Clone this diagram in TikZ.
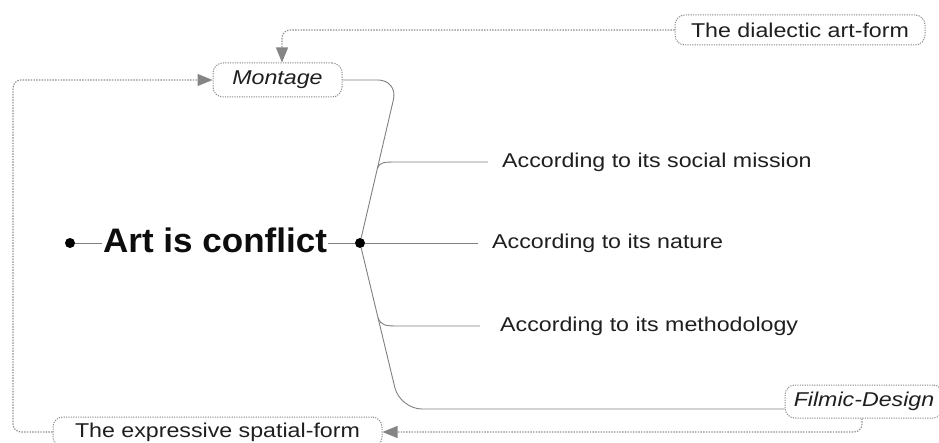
\documentclass[tikz,border=0pt]{standalone}
\usepackage{fontspec}
\setmainfont{Liberation Sans}
\usetikzlibrary{arrows.meta,calc}
\newcommand\sx[1]{\scalebox{1.16}[1]{#1}}
\begin{document}
\begin{tikzpicture}[x=1pt,y=-1pt,
  solidln/.style={draw=black!50, line width=0.9pt},
  dotln/.style={draw=black!45, line width=1.1pt, dash pattern=on 1.4pt off 1.3pt, rounded corners=8pt},
  arr/.style={-{Triangle[length=15pt,width=12pt,color=black!48]}},
  txt/.style={font=\fontsize{20}{24}\selectfont, text=black!88, inner sep=2pt},
  bubble/.style={draw=black!45, line width=1pt, dash pattern=on 1.2pt off 1.2pt, rounded corners=10pt, inner sep=0pt},
  hubdot/.style={circle, fill=black, inner sep=0pt, minimum size=10pt}
]
\useasboundingbox (0,0) rectangle (939,443);
\fill[white] (0,0) rectangle (939,443);

% hub
\node[hubdot] (ld) at (70,243) {};
\node[hubdot] (rd) at (360,243) {};
\node[font=\fontsize{34}{40}\selectfont\bfseries, text=black!95, inner sep=1pt, anchor=base west] (art) at (102,253) {\scalebox{1.03}[1]{Art is conflict}};

% branch texts
\node[txt, anchor=west] (soc) at (500,162) {\sx{According to its social mission}};
\node[txt, anchor=west] (nat) at (490,243) {\sx{According to its nature}};
\node[txt, anchor=west] (meth) at (498,326) {\sx{According to its methodology}};

% bubbles
\node[txt, bubble, font=\fontsize{20}{24}\selectfont\itshape, minimum width=129pt, minimum height=34pt] (mont) at (277.5,80) {\sx{Montage}};
\node[txt, bubble, minimum width=250pt, minimum height=30pt] (dial) at (800,30) {\sx{The dialectic art-form}};
\node[txt, bubble, minimum width=329pt, minimum height=30pt] (expr) at (217.5,432) {\sx{The expressive spatial-form}};
\node[txt, bubble, font=\fontsize{20}{24}\selectfont\itshape, minimum width=158pt, minimum height=33pt] (film) at (864,401.5) {\sx{Filmic-Design}};

% solid connectors
\coordinate (mc) at (398,80);
\coordinate (lc) at (400,409);
\draw[solidln] (ld) -- (art.west |- ld);
\draw[solidln] (art.east |- rd) -- (rd);
\draw[solidln] (rd) -- ([xshift=-12pt]nat.west);
\draw[solidln, rounded corners=20pt] (mont.east) -- (mc) -- (rd);
\draw[solidln, rounded corners=22pt] (rd) -- (lc) -- (film.west |- lc);

\coordinate (sb) at ($(rd.center)!0.46!(mc)$);
\coordinate (sj) at (397,162);
\draw[solidln] (sb) .. controls +(2,-6) and +(-12,0) .. (sj) -- ([xshift=-12pt]soc.west);

\coordinate (mb) at ($(rd.center)!0.45!(lc)$);
\coordinate (mj) at (398,326);
\draw[solidln] (mb) .. controls +(3,8) and +(-12,0) .. (mj) -- ([xshift=-18pt]meth.west);

% dotted connectors
\coordinate (lcorner) at (13,432);
\draw[dotln, arr] (dial.west) -| ([xshift=4.5pt]mont.north);
\draw[dotln, arr] (expr.west) -- (lcorner) |- (mont.west);
\draw[dotln, arr] ([xshift=-2pt]film.south) |- (expr.east);
\end{tikzpicture}
\end{document}
